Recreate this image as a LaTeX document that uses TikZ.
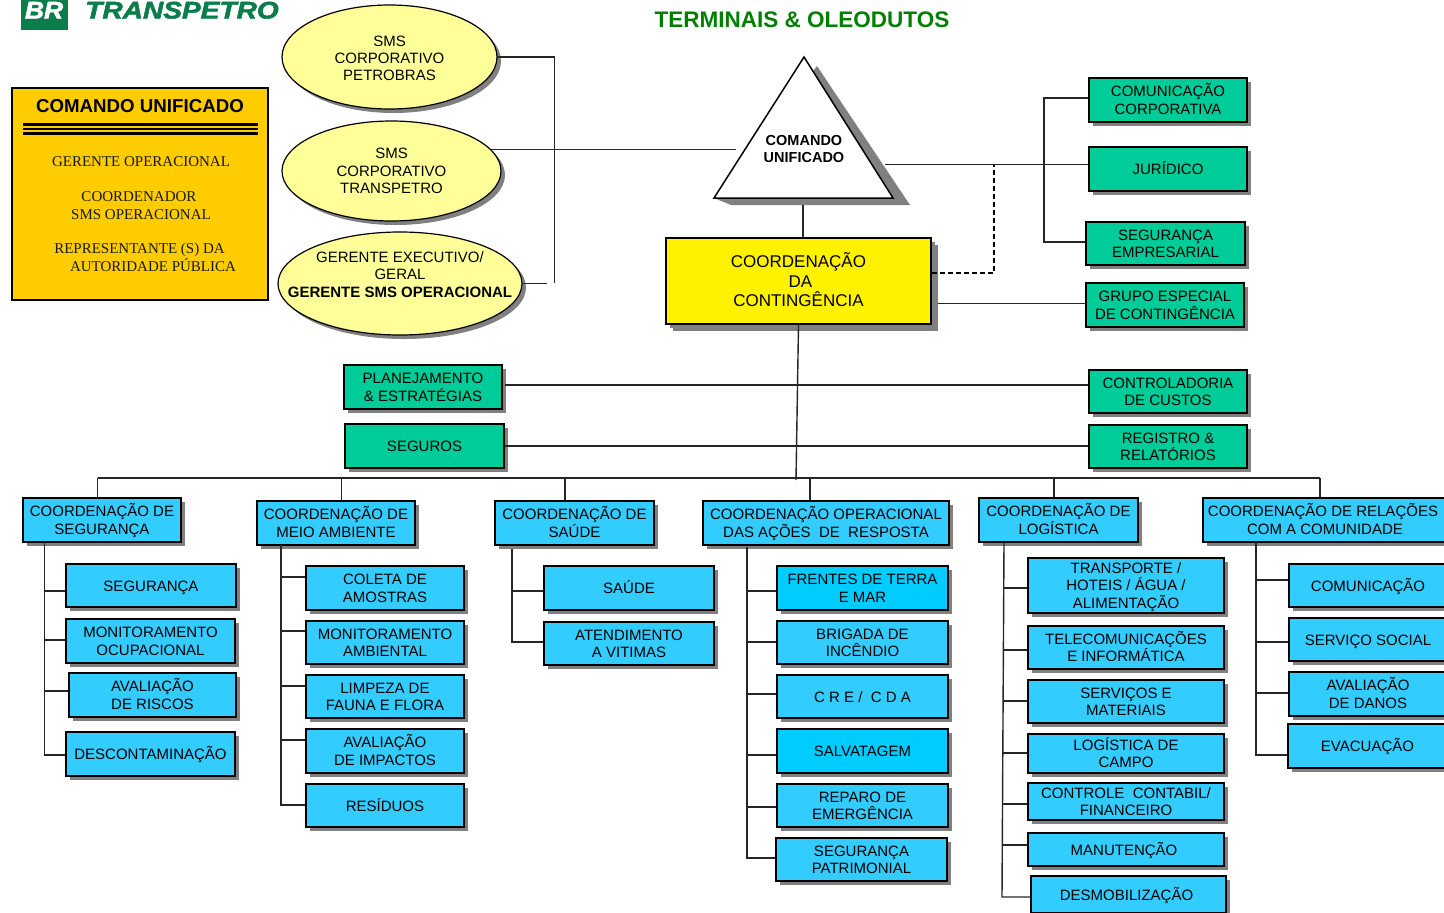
\documentclass[tikz,border=0pt]{standalone}
\usepackage{fontspec}
\setmainfont{Liberation Sans}
\newfontfamily\serifa{Liberation Serif}
\newfontfamily\logofont[FakeBold=2]{Liberation Sans Bold Italic}
\usetikzlibrary{shapes.geometric,shadows}
\definecolor{azul}{HTML}{33CCFF}
\definecolor{azulb}{HTML}{00CCFF}
\definecolor{verde}{HTML}{00CC99}
\definecolor{amarelo}{HTML}{FFFF99}
\definecolor{laranja}{HTML}{FFCC00}
\definecolor{logoverde}{HTML}{0B7D4B}
\definecolor{titulo}{HTML}{008000}
\tikzset{
  tam/.style 2 args={minimum width=#1pt,minimum height=#2pt},
  sombra/.style={drop shadow={shadow xshift=#1pt,shadow yshift=-#1pt,fill=black!50,opacity=1}},
  caixa/.style={draw=black,line width=2pt,inner sep=0pt,align=center,font=\fontsize{15}{17.5}\selectfont,sombra=4,
    execute at begin node=\rule{0pt}{15pt},execute at end node=\rule[-3.2pt]{0pt}{3.2pt}},
  dl/.style={text height=31.6pt,text depth=3.2pt},
  azulbox/.style={caixa,fill=azul},
  azulbbox/.style={caixa,fill=azulb},
  verdebox/.style={caixa,fill=verde},
  elipse/.style={ellipse,draw=black,line width=1.2pt,fill=amarelo,inner sep=0pt,align=center,font=\fontsize{15}{17.5}\selectfont,sombra=4},
  logotxt/.style={font=\logofont\fontsize{24}{24}\selectfont,inner sep=0pt,anchor=base,transform shape},
  texto/.style={font=\serifa\fontsize{15}{17}\selectfont,inner sep=0pt,text=black!90},
  linha/.style={draw=black!85,line width=1.4pt}
}
\begin{document}
\begin{tikzpicture}[x=1pt,y=-1pt]
  \useasboundingbox (0,0) rectangle (1444,913);
  \node[fill=logoverde,inner sep=0pt,tam={47}{32}] (logo) at (44.5,14) {};
  \node[logotxt,text=white,xscale=1.1] (br) at (44,18.5) {BR};
  \node[logotxt,text=logoverde,xscale=1.17] (transpetro) at (182,18.5) {TRANSPETRO};
  \node[font=\bfseries\fontsize{22.5}{24}\selectfont,text=titulo,inner sep=0pt] (terminais) at (802,20) {TERMINAIS \& OLEODUTOS};

  \node[draw=black,line width=2.5pt,fill=laranja,tam={256}{212}] (painel) at (140,194) {};
  \node[font=\bfseries\fontsize{18.7}{20}\selectfont,inner sep=0pt] (painelt) at (140,106) {COMANDO UNIFICADO};
  \coordinate (barl) at (23,124.5);
  \coordinate (barr) at (258,124.5);
  \draw[line width=3pt] (barl) -- (barr);
  \draw[line width=2pt] (23,129) -- (258,129);
  \draw[line width=3pt] (23,133.5) -- (258,133.5);
  \node[texto] (gerop) at (141,162) {GERENTE OPERACIONAL};
  \node[texto] (coord) at (139,197) {COORDENADOR};
  \node[texto] (smsop) at (141,215) {SMS OPERACIONAL};
  \node[texto] (repre) at (139.5,249.5) {REPRESENTANTE (S) DA};
  \node[texto] (autor) at (153,265.5) {AUTORIDADE PÚBLICA};

  \node[elipse,tam={215}{104}] (smsp) at (389.5,57) {};
  \node[align=center,inner sep=0pt,font=\fontsize{15}{17}\selectfont] (smspt) at (389.5,58) {SMS\\CORPORATIVO\\PETROBRAS};
  \node[elipse,tam={219}{100}] (smst) at (391.5,171) {SMS\\CORPORATIVO\\TRANSPETRO};
  \node[elipse,tam={244}{103}] (ger) at (400,283.5) {};
  \node[align=center,inner sep=0pt,font=\fontsize{15}{17.5}\selectfont] (gert) at (400,274.5) {GERENTE EXECUTIVO/\\GERAL\\\textbf{GERENTE SMS OPERACIONAL}};

  \coordinate (tria) at (804,57);
  \coordinate (trib) at (714,198);
  \coordinate (tric) at (893,198);
  \fill[black!50] (817,66) -- (910,205) -- (731,205) -- (trib) -- cycle;
  \draw[fill=white,line width=1.5pt] (tria) -- (trib) -- (tric) -- cycle;
  \node[font=\bfseries\fontsize{14.5}{17.5}\selectfont,align=center,inner sep=0pt] (comando) at (804,149) {COMANDO\\UNIFICADO};

  \node[caixa,text height=54.4pt,text depth=3.2pt,fill=yellow,tam={265}{86},font=\fontsize{17}{19.5}\selectfont,sombra=7] (yel) at (798.5,281) {COORDENAÇÃO\\\mbox{\hspace{4pt}DA}\\CONTINGÊNCIA};

  \node[verdebox,dl,tam={158}{44}] (corp) at (1168,100) {COMUNICAÇÃO\\CORPORATIVA};
  \node[verdebox,tam={158}{44}] (jur) at (1168,169) {JURÍDICO};
  \node[verdebox,dl,tam={159}{43}] (emp) at (1165.5,243.5) {SEGURANÇA\\EMPRESARIAL};
  \node[verdebox,dl,tam={158}{44}] (gru) at (1165,305) {GRUPO ESPECIAL\\DE CONTINGÊNCIA};
  \node[verdebox,dl,tam={158}{44}] (pla) at (423,387) {PLANEJAMENTO\\\& ESTRATÉGIAS};
  \node[verdebox,tam={159}{44}] (seg) at (424.5,446) {SEGUROS};
  \node[verdebox,dl,tam={158}{43}] (cto) at (1168,391.5) {CONTROLADORIA\\DE CUSTOS};
  \node[verdebox,dl,tam={158}{43}] (reg) at (1168,446.5) {REGISTRO \&\\RELATÓRIOS};

  \node[azulbox,dl,tam={158}{44}] (cseg) at (102,520) {COORDENAÇÃO DE\\SEGURANÇA};
  \node[azulbox,dl,tam={158}{44}] (cmei) at (336,523) {COORDENAÇÃO DE\\MEIO AMBIENTE};
  \node[azulbox,dl,tam={159}{44}] (csau) at (574.5,523) {COORDENAÇÃO DE\\SAÚDE};
  \node[azulbox,dl,tam={246}{44}] (cope) at (826,523) {COORDENAÇÃO OPERACIONAL\\DAS AÇÕES\ \ DE\ \ RESPOSTA};
  \node[azulbox,dl,tam={159}{44}] (clog) at (1058.5,520) {COORDENAÇÃO DE\\LOGÍSTICA};
  \node[azulbox,dl,tam={244}{44}] (crel) at (1325,520) {\mbox{COORDENAÇÃO DE RELAÇÕES\hspace{4pt}}\\COM A COMUNIDADE};

  \node[azulbox,tam={170}{43}] (ss1) at (151,585.5) {SEGURANÇA};
  \node[azulbox,dl,tam={169}{44}] (ss2) at (150.5,641) {MONITORAMENTO\\OCUPACIONAL};
  \node[azulbox,dl,tam={167}{44}] (ss3) at (152.5,695) {AVALIAÇÃO\\DE RISCOS};
  \node[azulbox,tam={169}{44}] (ss4) at (150.5,754) {DESCONTAMINAÇÃO};

  \node[azulbox,dl,tam={158}{44}] (mm1) at (385,588) {COLETA DE\\AMOSTRAS};
  \node[azulbox,dl,tam={158}{43}] (mm2) at (385,642.5) {MONITORAMENTO\\AMBIENTAL};
  \node[azulbox,dl,tam={158}{43}] (mm3) at (385,696.5) {LIMPEZA DE\\FAUNA E FLORA};
  \node[azulbox,dl,tam={158}{44}] (mm4) at (385,751) {AVALIAÇÃO\\DE IMPACTOS};
  \node[azulbox,tam={158}{43}] (mm5) at (385,805.5) {RESÍDUOS};

  \node[azulbox,tam={170}{44}] (sa1) at (629,588) {SAÚDE};
  \node[azulbox,dl,tam={170}{43}] (sa2) at (629,643.5) {ATENDIMENTO\\A VITIMAS};

  \node[azulbbox,dl,tam={171}{44}] (oo1) at (862.5,588) {FRENTES DE TERRA\\E MAR};
  \node[azulbox,dl,tam={171}{43}] (oo2) at (862.5,642.5) {BRIGADA DE\\INCÊNDIO};
  \node[azulbox,tam={171}{43}] (oo3) at (862.5,696.5) {C R E /\ \ C D A};
  \node[azulbbox,tam={171}{44}] (oo4) at (862.5,751) {SALVATAGEM};
  \node[azulbox,dl,tam={171}{43}] (oo5) at (862.5,805.5) {REPARO DE\\EMERGÊNCIA};
  \node[azulbox,dl,tam={171}{43}] (oo6) at (861.5,859.5) {SEGURANÇA\\PATRIMONIAL};

  \node[azulbox,text height=49.1pt,text depth=3.2pt,tam={196}{55}] (ll1) at (1126,585.5) {TRANSPORTE /\\HOTEIS / ÁGUA /\\ALIMENTAÇÃO};
  \node[azulbox,dl,tam={196}{43}] (ll2) at (1126,647.5) {TELECOMUNICAÇÕES\\E INFORMÁTICA};
  \node[azulbox,dl,tam={196}{43}] (ll3) at (1126,701.5) {SERVIÇOS E\\MATERIAIS};
  \node[azulbox,dl,tam={196}{39}] (ll4) at (1126,753.5) {LOGÍSTICA DE\\CAMPO};
  \node[azulbox,dl,tam={196}{37}] (ll5) at (1126,801.5) {CONTROLE\ \ CONTABIL/\\FINANCEIRO};
  \node[azulbox,tam={196}{33}] (ll6) at (1126,849.5) {\mbox{MANUTENÇÃO\hspace{4pt}}};
  \node[azulbox,tam={195}{37}] (ll7) at (1128.5,894.5) {\mbox{DESMOBILIZAÇÃO\hspace{4pt}}};

  \node[azulbox,tam={158}{43}] (rr1) at (1368,585.5) {COMUNICAÇÃO};
  \node[azulbox,tam={158}{43}] (rr2) at (1368,639.5) {SERVIÇO SOCIAL};
  \node[azulbox,dl,tam={158}{44}] (rr3) at (1368,694) {AVALIAÇÃO\\DE DANOS};
  \node[azulbox,tam={159}{44}] (rr4) at (1367.5,746) {EVACUAÇÃO};

  \coordinate (bkt) at (554.5,57);
  \coordinate (bkb) at (554.5,283);
  \coordinate (bkg) at (547,283.5);
  \coordinate (cmdw) at (736,149.5);
  \coordinate (cmde) at (885,164.5);
  \coordinate (cmds) at (803,205);
  \coordinate (rbt) at (1044,98);
  \coordinate (rbb) at (1044,242);
  \coordinate (dsh) at (994,273);
  \coordinate (gruw) at (938,303.5);
  \coordinate (plae) at (505,385);
  \draw[linha] (smsp.east) -- (bkt) -- (bkb);
  \draw[linha] (smst.12) -- (smst.12 -| cmdw);
  \draw[linha] (ger.east) -- (bkg);
  \draw[linha] (cmde) -- (jur.west |- cmde);
  \draw[linha] (corp.west |- rbt) -- (rbt) -- (rbb) -- (emp.west |- rbb);
  \draw[line width=2pt,dash pattern=on 5pt off 3pt] (yel.east |- dsh) -- (dsh) -- (dsh |- cmde);
  \draw[linha] (cmds) -- (cmds |- yel.north);
  \draw[linha] (gruw) -- (gru.west |- gruw);
  \draw[linha] (plae) -- (cto.west |- plae);
  \draw[linha] (seg.east) -- (reg.west |- seg.east);

  \coordinate (busa) at (97.5,478);
  \coordinate (busb) at (341.5,478);
  \coordinate (busc) at (565,478);
  \coordinate (busd) at (810,478);
  \coordinate (buse) at (1054,478);
  \coordinate (busf) at (1320,478);
  \coordinate (busm) at (796,480);
  \draw[linha] (busa) -- (busf);
  \draw[linha] (yel.south) -- (busm);
  \draw[linha] (busa) -- (busa |- cseg.north);
  \draw[linha] (busb) -- (busb |- cmei.north);
  \draw[linha] (busc) -- (busc |- csau.north);
  \draw[linha] (busd) -- (busd |- cope.north);
  \draw[linha] (buse) -- (buse |- clog.north);
  \draw[linha] (busf) -- (busf |- crel.north);

  \coordinate (tseg) at (44.5,542);
  \coordinate (tsegb) at (44.5,755);
  \draw[linha] (tseg) -- (tsegb) -- (ss4.west |- tsegb);
  \draw[linha] (tseg |- 0,591) -- (ss1.west |- 0,591);
  \draw[linha] (tseg |- 0,640) -- (ss2.west |- 0,640);
  \draw[linha] (tseg |- 0,691) -- (ss3.west |- 0,691);

  \coordinate (tmei) at (281,545);
  \coordinate (tmeib) at (281,805);
  \draw[linha] (tmei) -- (tmeib) -- (mm5.west |- tmeib);
  \draw[linha] (tmei |- 0,577) -- (mm1.west |- 0,577);
  \draw[linha] (tmei |- 0,631) -- (mm2.west |- 0,631);
  \draw[linha] (tmei |- 0,686) -- (mm3.west |- 0,686);
  \draw[linha] (tmei |- 0,740) -- (mm4.west |- 0,740);

  \coordinate (tsau) at (512,549);
  \coordinate (tsaub) at (512,642);
  \draw[linha] (tsau) -- (tsaub) -- (sa2.west |- tsaub);
  \draw[linha] (tsau |- 0,591) -- (sa1.west |- 0,591);

  \coordinate (tope) at (747,547);
  \coordinate (topeb) at (747,858);
  \draw[linha] (tope) -- (topeb) -- (oo6.west |- topeb);
  \draw[linha] (tope |- 0,591) -- (oo1.west |- 0,591);
  \draw[linha] (tope |- 0,642) -- (oo2.west |- 0,642);
  \draw[linha] (tope |- 0,694) -- (oo3.west |- 0,694);
  \draw[linha] (tope |- 0,755) -- (oo4.west |- 0,755);
  \draw[linha] (tope |- 0,807) -- (oo5.west |- 0,807);

  \coordinate (tlog) at (1004,542);
  \coordinate (tlogb) at (1002,897);
  \draw[linha] (tlog) -- (tlogb) -- (ll7.west |- tlogb);
  \draw[linha] (1003.5,588) -- (ll1.west |- 0,588);
  \draw[linha] (1003.5,650) -- (ll2.west |- 0,650);
  \draw[linha] (1003,701) -- (ll3.west |- 0,701);
  \draw[linha] (1003,753) -- (ll4.west |- 0,753);
  \draw[linha] (1003,804) -- (ll5.west |- 0,804);
  \draw[linha] (1002.5,845) -- (ll6.west |- 0,845);

  \coordinate (trel) at (1256,542);
  \coordinate (trelb) at (1256,755);
  \draw[linha] (trel) -- (trelb) -- (rr4.west |- trelb);
  \draw[linha] (trel |- 0,580) -- (rr1.west |- 0,580);
  \draw[linha] (trel |- 0,642) -- (rr2.west |- 0,642);
  \draw[linha] (trel |- 0,693) -- (rr3.west |- 0,693);
\end{tikzpicture}
\end{document}
